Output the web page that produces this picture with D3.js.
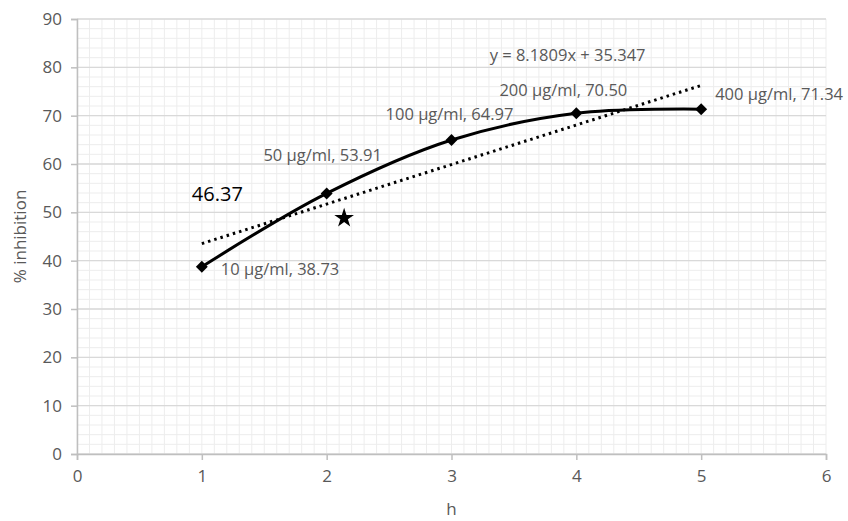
<!DOCTYPE html>
<html>
<head>
<meta charset="utf-8">
<script src="https://cdn.jsdelivr.net/npm/d3@7"></script>
<style>
  body { margin: 0; background: #fff; }
  text { font-family: "Open Sans", sans-serif; }
</style>
</head>
<body>
<svg id="chart" width="848" height="521"></svg>
<script>
// data
var hours = [1, 2, 3, 4, 5];
var inhibition = [38.73, 53.91, 64.97, 70.50, 71.34];
var concLabels = ["10 µg/ml", "50 µg/ml", "100 µg/ml", "200 µg/ml", "400 µg/ml"];
var trendSlope = 8.1809, trendIntercept = 35.347;
var starPoint = [2.14, 48.8];
var noteText = "46.37";
var xTicks = [0, 1, 2, 3, 4, 5, 6];
var yTicks = [0, 10, 20, 30, 40, 50, 60, 70, 80, 90];

// label placement (dx, dy, anchor) per point
var labelPos = [
  [19, 8, "start"],
  [-4, -32, "middle"],
  [-2, -20, "middle"],
  [-13, -17, "middle"],
  [14, -9, "start"]
];

var svg = d3.select("#chart");
var margin = {left: 77, right: 22, top: 19, bottom: 67},
    width = 848 - margin.left - margin.right,
    height = 521 - margin.top - margin.bottom;

var x = d3.scaleLinear().domain([0, 6]).range([0, width]);
var y = d3.scaleLinear().domain([0, 90]).range([height, 0]);

var g = svg.append("g").attr("transform", "translate(" + margin.left + "," + margin.top + ")");

// minor grid
g.append("g").selectAll("line").data(d3.range(0, 6.001, 0.1)).enter().append("line")
  .attr("x1", d => x(d)).attr("x2", d => x(d)).attr("y1", 0).attr("y2", height)
  .style("stroke", "#ededed").style("stroke-width", 1);
g.append("g").selectAll("line").data(d3.range(0, 90.001, 2)).enter().append("line")
  .attr("x1", 0).attr("x2", width).attr("y1", d => y(d)).attr("y2", d => y(d))
  .style("stroke", "#ededed").style("stroke-width", 1);
// major horizontal grid
g.append("g").selectAll("line").data(yTicks).enter().append("line")
  .attr("x1", 0).attr("x2", width).attr("y1", d => y(d)).attr("y2", d => y(d))
  .style("stroke", "#d9d9d9").style("stroke-width", 1.3);

// axes
var xAxis = g.append("g").attr("transform", "translate(0," + height + ")")
  .call(d3.axisBottom(x).tickValues(xTicks).tickFormat(d3.format("d")).tickSize(6).tickPadding(10));
var yAxis = g.append("g")
  .call(d3.axisLeft(y).tickValues(yTicks).tickFormat(d3.format("d")).tickSize(6).tickPadding(9));
[xAxis, yAxis].forEach(function(a){
  a.selectAll("path, line").style("stroke", "#bfbfbf").style("stroke-width", 1.5);
  a.selectAll("text").style("fill", "#595959").style("font-size", "17px");
});

// trendline
g.append("line")
  .attr("x1", x(1)).attr("y1", y(trendSlope * 1 + trendIntercept))
  .attr("x2", x(5)).attr("y2", y(trendSlope * 5 + trendIntercept))
  .style("stroke", "#000").style("stroke-width", 3)
  .style("stroke-dasharray", "2.5,4").style("stroke-linecap", "butt");

// smoothed series
var pts = hours.map((h, i) => [h, inhibition[i]]);
var line = d3.line().x(d => x(d[0])).y(d => y(d[1])).curve(d3.curveCatmullRom.alpha(0.5));
g.append("path").datum(pts).attr("d", line)
  .style("fill", "none").style("stroke", "#000").style("stroke-width", 3);

// markers
g.selectAll(".mk").data(pts).enter().append("path")
  .attr("transform", d => "translate(" + x(d[0]) + "," + y(d[1]) + ")")
  .attr("d", d3.symbol().type(d3.symbolDiamond2).size(90))
  .style("fill", "#000");

// data labels
g.selectAll(".lbl").data(pts).enter().append("text")
  .attr("x", (d, i) => x(d[0]) + labelPos[i][0])
  .attr("y", (d, i) => y(d[1]) + labelPos[i][1])
  .attr("text-anchor", (d, i) => labelPos[i][2])
  .style("fill", "#595959").style("font-size", "16.5px")
  .text((d, i) => concLabels[i] + ", " + d[1].toFixed(2));

// trend equation
g.append("text")
  .attr("x", x(3.93)).attr("y", y(81.3))
  .attr("text-anchor", "middle")
  .style("fill", "#595959").style("font-size", "16.5px")
  .text("y = " + trendSlope + "x + " + trendIntercept);

// star and note
g.append("path")
  .attr("transform", "translate(" + x(starPoint[0]) + "," + y(starPoint[1]) + ")")
  .attr("d", d3.symbol().type(d3.symbolStar).size(120))
  .style("fill", "#000");
g.append("text")
  .attr("x", x(0.92)).attr("y", y(52.4))
  .style("fill", "#000").style("font-size", "20px")
  .text(noteText);

// axis titles
svg.append("text")
  .attr("transform", "translate(26," + (margin.top + height / 2) + ") rotate(-90)")
  .attr("text-anchor", "middle")
  .style("fill", "#595959").style("font-size", "17px")
  .text("% inhibition");
svg.append("text")
  .attr("x", margin.left + width / 2).attr("y", 515)
  .attr("text-anchor", "middle")
  .style("fill", "#595959").style("font-size", "17px")
  .text("h");
</script>
</body>
</html>
